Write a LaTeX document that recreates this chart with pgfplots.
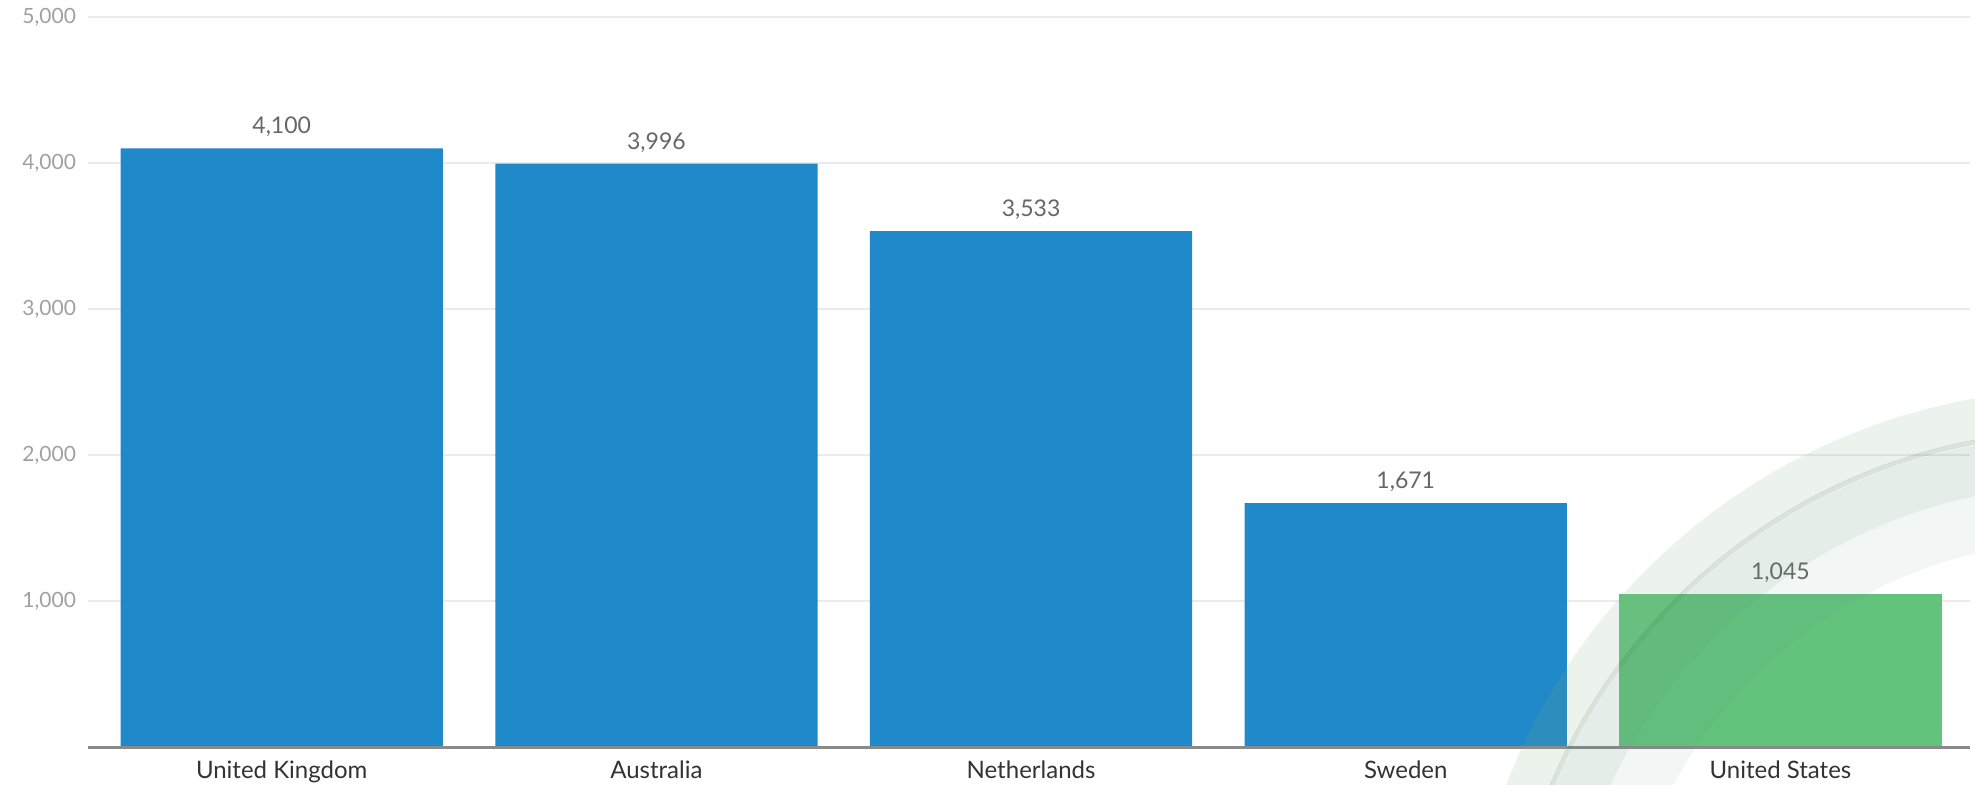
\documentclass[border=0pt]{standalone}
\usepackage{fontspec}
\setmainfont{Lato}
\usepackage{pgfplots}
\pgfplotsset{compat=1.18}
\definecolor{barblue}{HTML}{1F89C9}
\definecolor{bargreen}{HTML}{63C37D}
\definecolor{gridgray}{HTML}{EBEBEB}
\definecolor{axisgray}{HTML}{8A8A8A}
\definecolor{ticktext}{HTML}{A0A0A0}
\definecolor{valtext}{HTML}{666666}
\definecolor{cattext}{HTML}{333333}
\definecolor{arcA}{HTML}{7FAF84}
\definecolor{arcB}{HTML}{5E8F78}
\begin{document}
\begin{tikzpicture}
\path[use as bounding box] (0,0) rectangle (987.5pt,-392.5pt);
\begin{axis}[
  at={(44pt,-373.5pt)}, anchor=south west,
  scale only axis, width=941pt, height=365pt,
  xmin=-0.517, xmax=4.506, ymin=0, ymax=5000,
  ybar, bar width=0.86, bar shift=0pt,
  axis x line*=bottom, axis y line*=left,
  x axis line style={draw=none},
  y axis line style={draw=none},
  xtick={0,1,2,3,4},
  xticklabels={United Kingdom, Australia, Netherlands, Sweden, United States},
  ytick={1000,2000,3000,4000,5000},
  major tick length=0pt,
  ymajorgrids, grid style={gridgray, line width=0.8pt},
  /pgf/number format/.cd, assume math mode=true, 1000 sep={,},
  /pgfplots/.cd,
  yticklabel style={font=\fontsize{10.5}{12}\selectfont, text=ticktext, xshift=-2.5pt},
  xticklabel style={font=\fontsize{12}{13}\selectfont, text=cattext, yshift=-3.4pt},
  nodes near coords,
  every node near coord/.append style={font=\fontsize{11.5}{13}\selectfont, text=valtext, yshift=2.2pt},
  clip=false,
]
\addplot[fill=barblue, draw=none] coordinates {(0,4100) (1,3996) (2,3533) (3,1671)};
\addplot[fill=bargreen, draw=none] coordinates {(4,1045)};
\draw[axisgray, line width=1.5pt] (rel axis cs:0,0) -- (rel axis cs:1,0);
\end{axis}
\begin{scope}[x=0.5pt,y=-0.5pt]
\clip (0,0) rectangle (1975,785);
\fill[arcA, opacity=0.15, even odd rule] (2083,1007) circle (618) (2083,1007) circle (577);
\draw[arcA!70!black, opacity=0.22, line width=2.5pt] (2083,1007) circle (575);
\fill[arcB, opacity=0.16, even odd rule] (2083,1007) circle (572) (2083,1007) circle (522);
\fill[arcB, opacity=0.08, even odd rule] (2083,1007) circle (522) (2083,1007) circle (466);
\end{scope}
\end{tikzpicture}
\end{document}
